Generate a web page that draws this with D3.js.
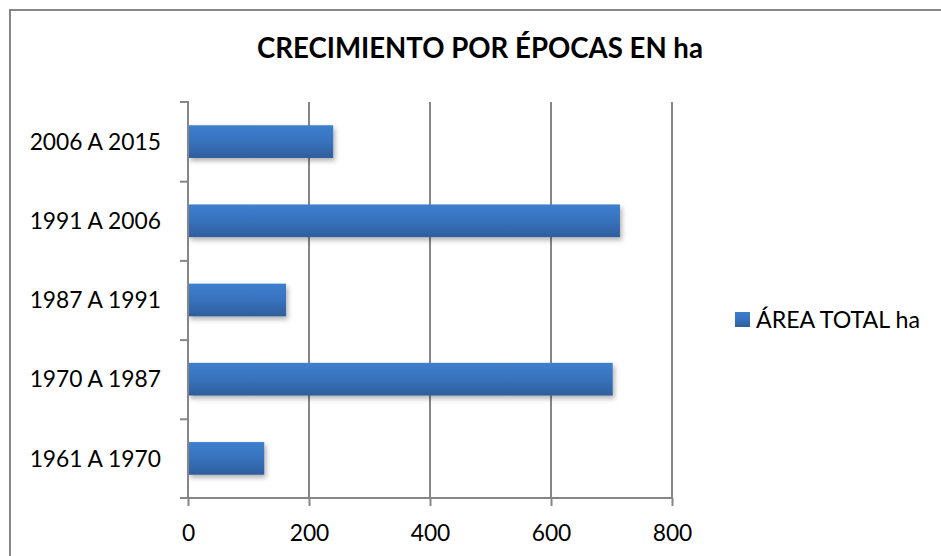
<!DOCTYPE html>
<html><head><meta charset="utf-8">
<script src="https://cdn.jsdelivr.net/npm/d3@7"></script>
<style>html,body{margin:0;padding:0;background:#fff;}svg{display:block;}</style>
</head><body>
<script>
const categories = ["1961 A 1970", "1970 A 1987", "1987 A 1991", "1991 A 2006", "2006 A 2015"];
const values = [126, 702, 162, 714, 240];
const xTicks = [0, 200, 400, 600, 800];
const seriesName = "ÁREA TOTAL ha";
const title = "CRECIMIENTO POR ÉPOCAS EN ha";

const W = 941, H = 556;
const svg = d3.select("body").append("svg").attr("width", W).attr("height", H);
const font = "Lato, 'Open Sans', sans-serif";

// outer chart border
svg.append("rect").attr("x", 10).attr("y", 10).attr("width", W).attr("height", H)
  .attr("fill", "#fff").attr("stroke", "#868686").attr("stroke-width", 2);

const defs = svg.append("defs");
const grad = defs.append("linearGradient").attr("id", "barGrad").attr("x1", 0).attr("y1", 0).attr("x2", 0).attr("y2", 1);
grad.append("stop").attr("offset", "0%").attr("stop-color", "#3d7fcf");
grad.append("stop").attr("offset", "50%").attr("stop-color", "#3872bd");
grad.append("stop").attr("offset", "100%").attr("stop-color", "#2e5e9c");
const filt = defs.append("filter").attr("id", "shadow").attr("x", "-10%").attr("y", "-30%").attr("width", "130%").attr("height", "180%");
filt.append("feDropShadow").attr("dx", 2).attr("dy", 3).attr("stdDeviation", 2.5).attr("flood-color", "#000").attr("flood-opacity", 0.3);

const pLeft = 188, pRight = 672, pTop = 102, pBottom = 498;
const x = d3.scaleLinear().domain([0, 800]).range([pLeft, pRight]);
const y = d3.scaleBand().domain(categories.slice().reverse()).range([pTop, pBottom]).paddingInner(0.587).paddingOuter(0.2935);

// title
svg.append("text").attr("x", 480).attr("y", 58).attr("text-anchor", "middle")
  .attr("font-family", font).attr("font-weight", "bold").attr("font-size", 27.6).attr("fill", "#000").text(title);

// gridlines
svg.append("g").selectAll("line").data(xTicks.slice(1)).join("line")
  .attr("x1", d => x(d)).attr("x2", d => x(d)).attr("y1", pTop).attr("y2", pBottom)
  .attr("stroke", "#868686").attr("stroke-width", 2);

// bars
svg.append("g").selectAll("rect").data(categories).join("rect")
  .attr("x", x(0)).attr("y", d => y(d))
  .attr("width", (d, i) => x(values[i]) - x(0)).attr("height", y.bandwidth())
  .attr("fill", "url(#barGrad)").attr("filter", "url(#shadow)");

// y axis
const yEdge = d3.scaleLinear().domain([0, categories.length]).range([pBottom, pTop]);
const yAxis = d3.axisLeft(yEdge).tickValues(d3.range(categories.length + 1)).tickSize(8).tickFormat("");
const ya = svg.append("g").attr("transform", `translate(${pLeft},0)`).call(yAxis);
ya.select(".domain").attr("stroke", "#868686").attr("stroke-width", 2).attr("d", `M-8,${pTop}H0V${pBottom}`);
ya.selectAll(".tick line").attr("stroke", "#868686").attr("stroke-width", 2);
ya.selectAll(".tick").filter(d => d === 0 || d === categories.length).select("line").remove();

// category labels
svg.append("g").selectAll("text").data(categories).join("text")
  .attr("x", 161).attr("y", d => y(d) + y.bandwidth() / 2).attr("dy", "0.36em")
  .attr("text-anchor", "end").attr("font-family", font).attr("font-size", 22.8).attr("fill", "#000").text(d => d);

// x axis
const xAxis = d3.axisBottom(x).tickValues(xTicks).tickSize(8).tickPadding(19).tickFormat(d3.format("d"));
const xa = svg.append("g").attr("transform", `translate(0,${pBottom})`).call(xAxis);
xa.select(".domain").attr("stroke", "#868686").attr("stroke-width", 2).attr("d", `M${pLeft - 8},0H${pRight}`);
xa.selectAll(".tick line").attr("stroke", "#868686").attr("stroke-width", 2);
xa.selectAll(".tick text").attr("font-family", font).attr("font-size", 22.8).attr("fill", "#000");

// legend
const lg = svg.append("g").attr("transform", "translate(735,312)");
lg.append("rect").attr("width", 15).attr("height", 15).attr("fill", "url(#barGrad)");
lg.append("text").attr("x", 21).attr("y", 15.5).attr("font-family", font).attr("font-size", 23.2).attr("fill", "#000").text(seriesName);
</script>
</body></html>
